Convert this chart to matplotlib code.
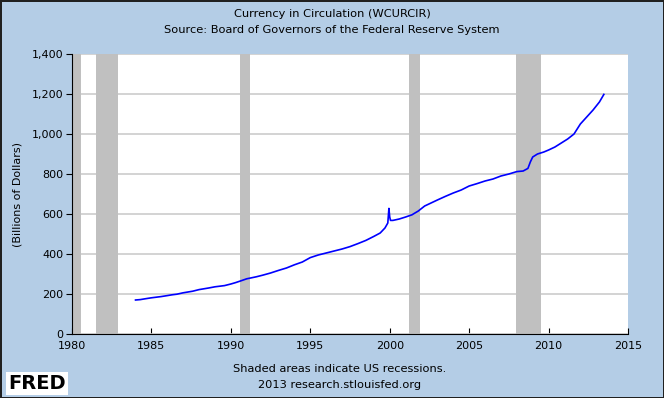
import matplotlib.pyplot as plt
from matplotlib.ticker import FuncFormatter

# weekly currency in circulation (billions of dollars)
years = [1984.0, 1984.3, 1984.6, 1985.0, 1985.3, 1985.6, 1986.0, 1986.3, 1986.6,
         1987.0, 1987.3, 1987.6, 1988.0, 1988.3, 1988.6, 1989.0, 1989.3, 1989.6,
         1990.0, 1990.3, 1990.6, 1991.0, 1991.3, 1991.6, 1992.0, 1992.5, 1993.0,
         1993.5, 1994.0, 1994.5, 1995.0, 1995.5, 1996.0, 1996.5, 1997.0, 1997.5,
         1998.0, 1998.5, 1999.0, 1999.4, 1999.7, 1999.88, 1999.95, 2000.0, 2000.05,
         2000.2, 2000.6, 2001.0, 2001.4, 2001.8, 2002.2, 2002.6, 2003.0, 2003.5,
         2004.0, 2004.5, 2005.0, 2005.5, 2006.0, 2006.5, 2007.0, 2007.5, 2008.0,
         2008.4, 2008.7, 2008.85, 2009.0, 2009.3, 2009.7, 2010.0, 2010.4, 2010.8,
         2011.2, 2011.6, 2012.0, 2012.4, 2012.8, 2013.2, 2013.48]
values = [170, 172, 176, 181, 184, 187, 192, 196, 199,
          206, 210, 214, 222, 226, 230, 236, 239, 242,
          250, 257, 265, 276, 281, 286, 294, 305, 318,
          330, 346, 360, 382, 395, 405, 415, 425, 437,
          452, 468, 488, 505, 530, 555, 628, 585, 568,
          568, 575, 585, 596, 615, 640, 655, 670, 688,
          705, 720, 740, 752, 765, 775, 790, 800, 812,
          815, 828, 860, 885, 900, 910, 920, 935, 955,
          975, 1000, 1050, 1085, 1120, 1160, 1198]

recessions = [(1980.0, 1980.58), (1981.5, 1982.88), (1990.55, 1991.2),
              (2001.2, 2001.88), (2007.92, 2009.5)]

x_ticks = [1980, 1985, 1990, 1995, 2000, 2005, 2010, 2015]
y_ticks = [0, 200, 400, 600, 800, 1000, 1200, 1400]

bg = '#b4cde6'
fig = plt.figure(figsize=(6.64, 3.98), dpi=100, facecolor=bg,
                 edgecolor='#202020', linewidth=2)
ax = fig.add_axes([0.1084, 0.1608, 0.8374, 0.7035])

for start, end in recessions:
    ax.axvspan(start, end, color='#c0c0c0', lw=0, zorder=1)

ax.plot(years, values, color='#0000ff', lw=1.2, zorder=3)

ax.set_xlim(1980, 2015)
ax.set_ylim(0, 1400)
ax.set_xticks(x_ticks)
ax.set_yticks(y_ticks)
ax.yaxis.set_major_formatter(FuncFormatter(lambda v, p: f'{int(v):,}'))
ax.grid(axis='y', color='#cccccc', lw=1.2, zorder=0)
ax.set_axisbelow(True)
ax.tick_params(axis='x', direction='in', length=4, labelsize=8, pad=5)
ax.tick_params(axis='y', direction='out', length=4, labelsize=8, pad=2)
for s in ['top', 'right']:
    ax.spines[s].set_visible(False)
for s in ['left', 'bottom']:
    ax.spines[s].set_color('black')
ax.set_ylabel('(Billions of Dollars)', fontsize=8, labelpad=7)

fig.text(0.5, 0.965, 'Currency in Circulation (WCURCIR)', ha='center', va='center', fontsize=8.2)
fig.text(0.5, 0.925, 'Source: Board of Governors of the Federal Reserve System',
         ha='center', va='center', fontsize=8.2)
fig.text(0.512, 0.073, 'Shaded areas indicate US recessions.', ha='center', va='center', fontsize=8.2)
fig.text(0.512, 0.033, '2013 research.stlouisfed.org', ha='center', va='center', fontsize=8.2)

fig.text(0.012, 0.037, 'FRED', fontsize=14, fontweight='bold', ha='left', va='center',
         bbox=dict(facecolor='white', edgecolor='none', pad=1.5))

fig.savefig('out.png', dpi=100, facecolor=bg, edgecolor='#202020')
